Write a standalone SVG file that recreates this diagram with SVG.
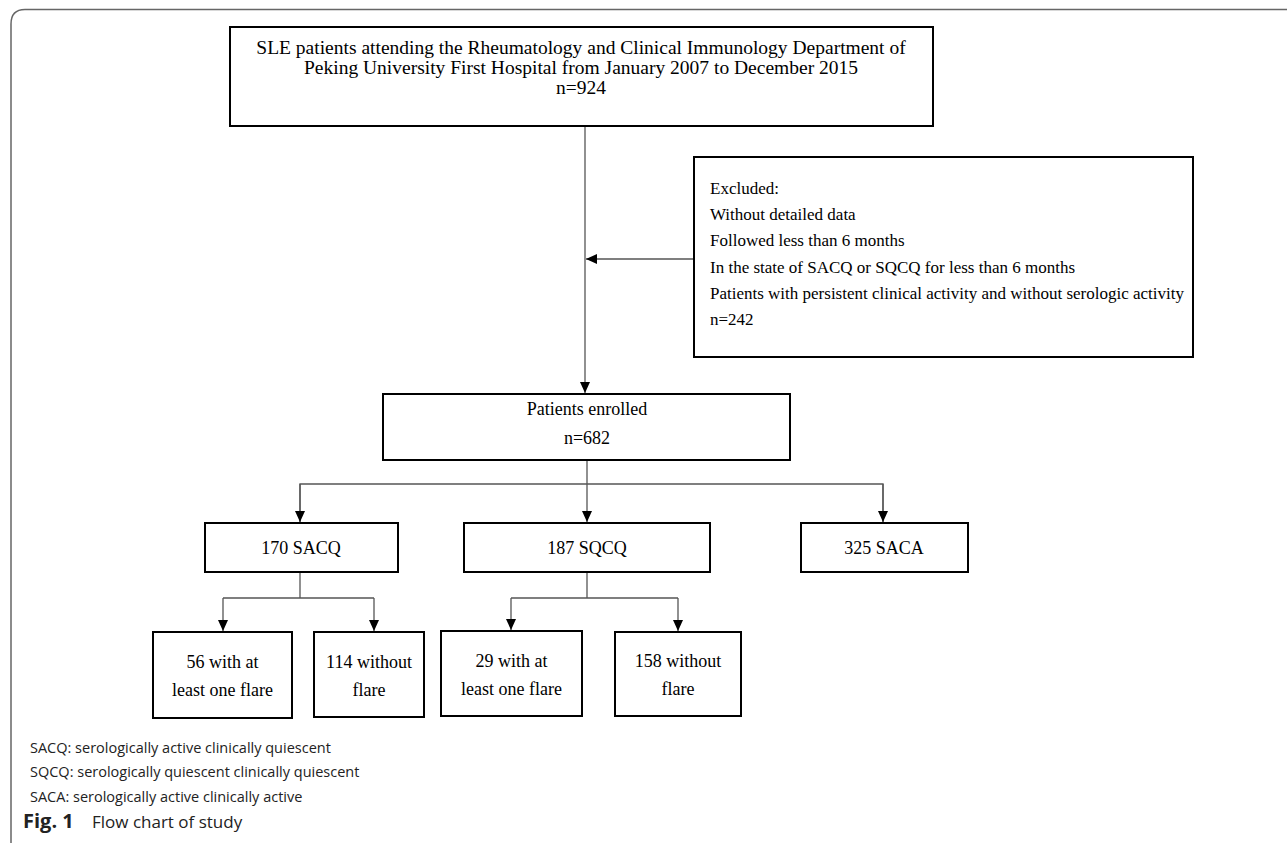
<svg xmlns="http://www.w3.org/2000/svg" width="1287" height="849" viewBox="0 0 1287 849">
<defs>
<marker id="ah" markerWidth="12" markerHeight="12" refX="11" refY="5" orient="auto" markerUnits="userSpaceOnUse">
<path d="M0,0 L11,5 L0,10 Z" fill="#000"/>
</marker>
<style>
.box{fill:#fff;stroke:#000;stroke-width:2}
.t{font-family:"Liberation Serif","Times New Roman",serif;font-size:18px;fill:#000}
.top{font-size:19.5px}
.ex{font-size:17px}
.c{text-anchor:middle}
.ln{fill:none;stroke:#555;stroke-width:1.3}
.ar{fill:none;stroke:#555;stroke-width:1.3;marker-end:url(#ah)}
.lg{font-family:"Open Sans","Noto Sans",sans-serif;font-size:14.5px;fill:#222}
</style>
</defs>
<rect width="1287" height="849" fill="#fff"/>
<path d="M11,843 V24 Q11,9.5 25,9.5 H1287" fill="none" stroke="#666" stroke-width="1.5"/>

<g id="connectors">
<line class="ar" x1="585" y1="126" x2="585" y2="393"/>
<line class="ar" x1="694" y1="259" x2="586" y2="259"/>
<line class="ln" x1="587" y1="460" x2="587" y2="484"/>
<polyline class="ln" points="300,522 300,484 883,484 883,522"/>
<line class="ar" x1="300" y1="484" x2="300" y2="522"/>
<line class="ar" x1="587" y1="484" x2="587" y2="522"/>
<line class="ar" x1="883" y1="484" x2="883" y2="522"/>
<line class="ln" x1="300" y1="572" x2="300" y2="598"/>
<polyline class="ln" points="223,598 374,598"/>
<line class="ar" x1="223" y1="598" x2="223" y2="631"/>
<line class="ar" x1="374" y1="598" x2="374" y2="631"/>
<line class="ln" x1="587" y1="572" x2="587" y2="598"/>
<polyline class="ln" points="511,598 678,598"/>
<line class="ar" x1="511" y1="598" x2="511" y2="630"/>
<line class="ar" x1="678" y1="598" x2="678" y2="631"/>
</g>

<g id="n-source">
<rect class="box" x="230" y="27" width="703" height="99"/>
<text class="t top c" x="581" y="54">SLE patients attending the Rheumatology and Clinical Immunology Department of</text>
<text class="t top c" x="581" y="74">Peking University First Hospital from January 2007 to December 2015</text>
<text class="t top c" x="581" y="94">n=924</text>
</g>

<g id="n-excluded">
<rect class="box" x="694" y="157" width="499" height="200"/>
<text class="t ex" x="710" y="194">Excluded:</text>
<text class="t ex" x="710" y="220">Without detailed data</text>
<text class="t ex" x="710" y="246">Followed less than 6 months</text>
<text class="t ex" x="710" y="273">In the state of SACQ or SQCQ for less than 6 months</text>
<text class="t ex" x="710" y="299">Patients with persistent clinical activity and without serologic activity</text>
<text class="t ex" x="710" y="325">n=242</text>
</g>

<g id="n-enrolled">
<rect class="box" x="383" y="394" width="407" height="66"/>
<text class="t c" x="587" y="415">Patients enrolled</text>
<text class="t c" x="587" y="444">n=682</text>
</g>

<g id="n-sacq">
<rect class="box" x="205" y="523" width="193" height="49"/>
<text class="t c" x="301" y="554">170 SACQ</text>
</g>
<g id="n-sqcq">
<rect class="box" x="464" y="523" width="246" height="49"/>
<text class="t c" x="587" y="554">187 SQCQ</text>
</g>
<g id="n-saca">
<rect class="box" x="801" y="523" width="167" height="49"/>
<text class="t c" x="884" y="554">325 SACA</text>
</g>

<g id="n-sacq-flare">
<rect class="box" x="153" y="632" width="139" height="86"/>
<text class="t c" x="222.5" y="668">56 with at</text>
<text class="t c" x="222.5" y="696">least one flare</text>
</g>
<g id="n-sacq-noflare">
<rect class="box" x="314" y="632" width="110" height="85"/>
<text class="t c" x="369" y="668">114 without</text>
<text class="t c" x="369" y="696">flare</text>
</g>
<g id="n-sqcq-flare">
<rect class="box" x="441" y="631" width="141" height="85"/>
<text class="t c" x="511.5" y="667">29 with at</text>
<text class="t c" x="511.5" y="695">least one flare</text>
</g>
<g id="n-sqcq-noflare">
<rect class="box" x="615" y="632" width="126" height="84"/>
<text class="t c" x="678" y="667">158 without</text>
<text class="t c" x="678" y="695">flare</text>
</g>

<g id="legend">
<text class="lg" x="30" y="753">SACQ: serologically active clinically quiescent</text>
<text class="lg" x="30" y="777">SQCQ: serologically quiescent clinically quiescent</text>
<text class="lg" x="30" y="802">SACA: serologically active clinically active</text>
<text x="23" y="828" style="font-family:'Open Sans','Noto Sans',sans-serif;font-size:20px;font-weight:bold;fill:#222">Fig. 1</text>
<text x="92" y="828" style="font-family:'Open Sans','Noto Sans',sans-serif;font-size:17px;fill:#222">Flow chart of study</text>
</g>
</svg>
